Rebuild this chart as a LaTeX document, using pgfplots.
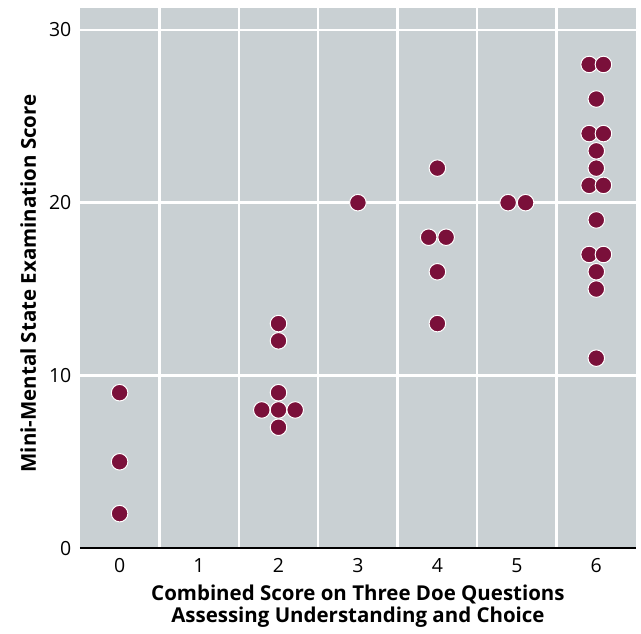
\documentclass[border=0pt]{standalone}
\usepackage{pgfplots}
\pgfplotsset{compat=1.18}
\usepackage{fontspec}
\setmainfont{Open Sans}
\definecolor{panel}{RGB}{201,208,211}
\definecolor{dotred}{RGB}{122,16,58}
\begin{document}
\fontsize{19}{23}\selectfont
\begin{tikzpicture}
\begin{axis}[
    scale only axis,
    width=557pt, height=541pt,
    xmin=-0.5, xmax=6.5, ymin=0, ymax=31.27,
    axis background/.style={fill=panel},
    axis x line*=bottom, axis y line*=left,
    x axis line style={line width=2.5pt, black, -},
    y axis line style={draw=none},
    xtick={0,...,6}, ytick={0,10,20,30},
    minor xtick={0.5,1.5,...,5.5},
    xminorgrids=true, ymajorgrids=true,
    minor x grid style={white, line width=2.5pt},
    major y grid style={white, line width=2.5pt},
    major tick length=0pt, minor tick length=0pt,
    tick style={draw=none},
    tick label style={font=\fontsize{19.5}{23}\selectfont},
    /pgf/number format/assume math mode=true,
    xticklabel style={yshift=-4pt},
    yticklabel style={xshift=-2pt},
    xlabel={Combined Score on Three Doe Questions\\Assessing Understanding and Choice},
    xlabel style={align=center, font=\fontsize{20.5}{22}\selectfont\bfseries, yshift=1pt},
    ylabel={Mini-Mental State Examination Score},
    ylabel style={font=\fontsize{20.5}{22}\selectfont\bfseries, at={(axis description cs:-0.093,0.49)}, anchor=center},
    clip=false,
]
\addplot[only marks, mark=*, mark size=8.3pt,
    mark options={fill=dotred, draw=white, line width=1pt}]
coordinates {
    (0,9) (0,5) (0,2)
    (2,13) (2,12) (2,9) (1.79,8) (2,8) (2.21,8) (2,7)
    (3,20)
    (4,22) (3.89,18) (4.11,18) (4,16) (4,13)
    (4.89,20) (5.11,20)
    (5.91,28) (6.09,28) (6,26) (5.91,24) (6.09,24) (6,23) (6,22)
    (5.91,21) (6.09,21) (6,19) (5.91,17) (6.09,17) (6,16) (6,15) (6,11)
};
\end{axis}
\path ([shift={(-80pt,-77pt)}]current axis.south west) rectangle ([shift={(5pt,8pt)}]current axis.north east);
\end{tikzpicture}
\end{document}
